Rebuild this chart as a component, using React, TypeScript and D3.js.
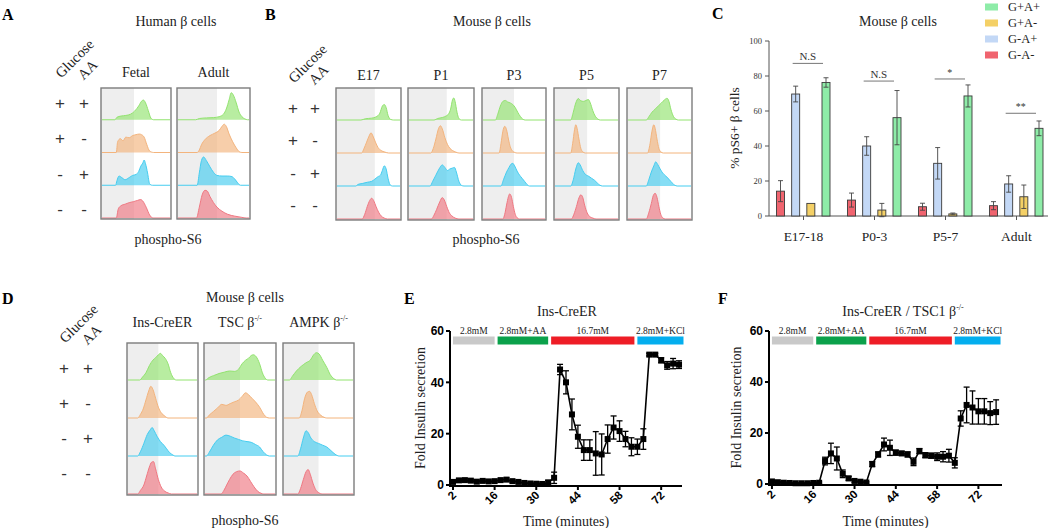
import React from 'react'
import * as d3 from 'd3'

const SERIF = '"Liberation Serif", "Times New Roman", serif'
const SANS = '"Liberation Sans", Arial, sans-serif'

type Pt = [number, number]

// ---- flow histograms: [phospho-S6 position %, height % of row], rows top -> bottom
const rowColors = ['#92e36f', '#f3b47d', '#45cdf0', '#ef7882']
const glucoseSigns = ['+', '+', '-', '-']
const aaSigns = ['+', '-', '+', '-']

const fetal: Pt[][] = [
  [[0,0],[19,0],[22,8],[28,12],[35,14],[42,18],[48,28],[54,45],[58,60],[61,64],[64,55],[68,30],[72,5],[76,0],[100,0]],
  [[0,0],[21,0],[23,35],[27,45],[31,38],[35,50],[40,48],[45,55],[50,58],[55,60],[58,58],[62,50],[66,25],[70,5],[76,0],[100,0]],
  [[0,0],[20,0],[22,15],[25,30],[29,25],[34,18],[40,25],[45,32],[50,35],[54,45],[57,62],[60,72],[62,82],[64,70],[67,40],[70,5],[74,0],[100,0]],
  [[0,0],[21,0],[24,30],[28,40],[34,45],[40,50],[46,53],[52,57],[57,60],[60,55],[65,35],[70,10],[75,0],[100,0]],
]
const adult: Pt[][] = [
  [[0,0],[25,0],[30,4],[40,6],[50,7],[58,10],[64,18],[68,35],[72,65],[75,88],[78,80],[82,55],[86,25],[90,10],[94,3],[98,0],[100,0]],
  [[0,0],[27,0],[30,8],[33,25],[38,42],[45,55],[52,63],[58,72],[62,85],[65,92],[68,85],[72,60],[77,35],[82,15],[86,3],[90,0],[100,0]],
  [[0,0],[27,0],[30,40],[33,80],[36,92],[40,80],[45,60],[50,42],[55,32],[62,30],[70,30],[76,28],[80,20],[84,8],[88,0],[100,0]],
  [[0,0],[26,0],[30,35],[34,75],[38,90],[41,88],[45,70],[50,50],[55,35],[62,22],[70,12],[80,6],[90,2],[96,0],[100,0]],
]
const e17: Pt[][] = [
  [[0,0],[38,0],[45,4],[55,6],[62,10],[68,22],[72,45],[75,50],[78,40],[81,15],[85,2],[90,0],[100,0]],
  [[0,0],[39,0],[43,15],[47,35],[51,55],[54,65],[57,55],[61,35],[65,18],[70,8],[76,3],[82,0],[100,0]],
  [[0,0],[30,0],[33,5],[40,8],[48,12],[55,15],[60,22],[65,30],[69,35],[72,50],[75,65],[78,55],[81,25],[84,5],[88,0],[100,0]],
  [[0,0],[40,0],[44,15],[48,40],[52,60],[55,67],[58,60],[62,40],[66,22],[70,10],[75,3],[80,0],[100,0]],
]
const p1: Pt[][] = [
  [[0,0],[39,0],[45,5],[52,8],[58,13],[62,20],[65,35],[68,65],[70,71],[72,60],[75,25],[78,5],[82,0],[100,0]],
  [[0,0],[34,0],[38,15],[42,45],[46,78],[49,88],[52,78],[56,50],[60,28],[64,15],[68,8],[73,3],[78,0],[100,0]],
  [[0,0],[33,0],[37,15],[42,35],[47,55],[52,68],[56,60],[60,50],[64,55],[68,58],[71,60],[74,45],[78,15],[82,2],[86,0],[100,0]],
  [[0,0],[35,0],[39,12],[43,30],[48,55],[52,69],[55,62],[59,40],[63,20],[67,10],[72,3],[78,0],[100,0]],
]
const p3: Pt[][] = [
  [[0,0],[20,0],[24,20],[28,45],[32,60],[36,63],[40,58],[44,55],[48,50],[52,40],[56,25],[60,12],[64,3],[68,0],[100,0]],
  [[0,0],[26,0],[29,30],[32,70],[35,86],[38,75],[41,45],[44,20],[47,8],[51,2],[55,0],[100,0]],
  [[0,0],[29,0],[33,20],[38,45],[42,60],[45,70],[48,73],[51,65],[55,48],[59,35],[63,25],[67,15],[71,5],[75,0],[100,0]],
  [[0,0],[32,0],[35,15],[38,45],[41,72],[43,81],[46,70],[49,40],[52,15],[55,4],[59,0],[100,0]],
]
const p5: Pt[][] = [
  [[0,0],[25,0],[29,25],[33,55],[37,69],[41,62],[45,60],[49,63],[53,66],[56,55],[60,30],[64,12],[68,3],[72,0],[100,0]],
  [[0,0],[25,0],[28,30],[31,75],[33,91],[35,80],[38,45],[41,15],[44,4],[48,0],[100,0]],
  [[0,0],[25,0],[29,20],[33,55],[37,75],[40,68],[44,50],[48,38],[53,32],[58,25],[63,18],[67,10],[71,3],[75,0],[100,0]],
  [[0,0],[26,0],[30,15],[34,40],[38,68],[41,78],[44,70],[47,45],[51,20],[55,8],[60,3],[65,0],[100,0]],
]
const p7: Pt[][] = [
  [[0,0],[29,0],[33,10],[38,25],[43,35],[48,45],[53,55],[58,65],[62,70],[65,60],[68,35],[72,12],[76,3],[80,0],[100,0]],
  [[0,0],[31,0],[35,30],[38,70],[41,91],[43,80],[46,45],[49,15],[52,4],[56,0],[100,0]],
  [[0,0],[29,0],[33,20],[37,45],[41,65],[44,78],[47,70],[51,55],[55,42],[60,32],[65,22],[70,10],[74,3],[78,0],[100,0]],
  [[0,0],[29,0],[33,20],[37,50],[40,75],[43,83],[46,70],[49,40],[52,15],[55,4],[59,0],[100,0]],
]
const insCre: Pt[][] = [
  [[0,0],[17,0],[21,8],[26,20],[31,40],[36,55],[40,62],[44,70],[47,74],[50,68],[54,60],[58,45],[62,20],[66,5],[70,0],[100,0]],
  [[0,0],[14,0],[18,10],[22,25],[26,50],[30,75],[33,88],[36,80],[40,55],[44,30],[48,15],[53,6],[58,0],[100,0]],
  [[0,0],[14,0],[18,12],[23,35],[28,60],[32,72],[35,79],[38,70],[42,55],[47,40],[52,30],[56,20],[60,10],[65,3],[68,0],[100,0]],
  [[0,0],[14,0],[18,10],[23,25],[27,50],[31,75],[34,88],[37,90],[40,70],[44,40],[48,20],[53,8],[58,3],[63,0],[100,0]],
]
const tscKO: Pt[][] = [
  [[0,0],[1,0],[5,6],[12,12],[20,18],[28,22],[35,25],[42,24],[48,30],[53,45],[58,55],[62,60],[66,68],[69,70],[73,65],[78,45],[82,20],[86,5],[90,0],[100,0]],
  [[0,0],[2,0],[6,8],[12,18],[18,28],[24,38],[30,35],[36,40],[42,45],[48,50],[53,60],[58,70],[62,65],[67,55],[72,45],[78,30],[84,10],[88,2],[92,0],[100,0]],
  [[0,0],[2,0],[6,10],[12,30],[18,45],[24,52],[30,58],[36,55],[42,50],[48,46],[54,42],[60,40],[66,38],[72,32],[78,25],[83,12],[88,3],[92,0],[100,0]],
  [[0,0],[23,0],[27,10],[31,25],[35,40],[40,55],[45,62],[50,64],[55,58],[60,50],[65,35],[70,20],[75,8],[80,2],[84,0],[100,0]],
]
const ampkKO: Pt[][] = [
  [[0,0],[8,0],[12,10],[18,25],[25,38],[32,48],[38,55],[43,70],[47,76],[51,72],[56,55],[62,35],[67,15],[72,4],[76,0],[100,0]],
  [[0,0],[22,0],[26,20],[30,55],[34,72],[37,74],[40,65],[44,40],[48,20],[53,8],[58,2],[62,0],[100,0]],
  [[0,0],[20,0],[24,20],[28,50],[32,70],[35,65],[39,50],[44,40],[50,35],[56,30],[62,25],[68,15],[74,5],[80,0],[100,0]],
  [[0,0],[20,0],[24,15],[28,40],[32,62],[35,68],[38,55],[42,30],[46,12],[50,4],[55,0],[100,0]],
]

// ---- panel C
const stages = ['E17-18', 'P0-3', 'P5-7', 'Adult']
const conditions = ['G-A-', 'G-A+', 'G+A-', 'G+A+']
const condColors = ['#f0646f', '#c3d8f6', '#f4d066', '#8eeca8']
const pctGmAm = [14.2, 9.1, 5.3, 5.9]
const errGmAm = [6, 4, 2, 2.3]
const pctGmAp = [69.7, 40, 30.1, 18.3]
const errGmAp = [4.5, 5.3, 9, 4.7]
const pctGpAm = [7.2, 3.4, 1.2, 11]
const errGpAm = [0, 3.8, 0.5, 6.7]
const pctGpAp = [76.3, 56.2, 68.6, 50.1]
const errGpAp = [2.7, 15.5, 6.3, 4.2]
const sigLabels = ['N.S', 'N.S', '*', '**']
const sigLevel = [87.2, 77.1, 78.3, 58.7]
const pctTicks = [0, 20, 40, 60, 80, 100]

// ---- panels E / F
const minutes = [2,4,6,8,10,12,14,16,18,20,22,24,26,28,30,32,34,36,38,40,42,44,46,48,50,52,54,56,58,60,62,64,66,68,70,72,74,76,78]
const ctrlFold = [1.2,1.8,1.9,1.7,1.3,1.6,1.4,1.5,1.9,2.1,1.5,1.2,0.8,0.6,0.5,0.4,1.0,2.8,45,40,27.5,18.8,13.6,13.6,12.3,11.9,17.9,22.4,21,17.9,14.9,14.9,17.9,50.8,50.8,48.6,46.6,47.3,46.9]
const ctrlErr = [0.5,0.6,0.6,0.5,0.5,0.5,0.5,0.5,0.6,0.7,0.5,0.5,0.4,0.3,0.3,0.3,0.8,2.2,2,4.5,6,4.5,4,4,8.5,8,5.5,4.5,4,3,3.5,3,4,0.5,0.5,1,1.5,2,1.5]
const tscFold = [1.0,0.7,0.5,0.4,0.3,0.3,0.3,0.4,0.5,9,12,10,4,2.2,1.2,0.9,0.6,7.8,11.6,15.5,14.2,12.3,12,11.6,8.7,12.9,11.3,11.1,10.7,10.7,11.1,8.3,25.7,31,30,28.5,28.5,27.8,28.2]
const tscErr = [0.4,0.3,0.3,0.3,0.2,0.2,0.2,0.3,0.3,1.5,4,4.5,1.5,0.8,0.5,0.4,0.3,1,1,2.5,3,1,0.8,1,1.5,1,1,1,1.5,2,2.5,2,3,7,6.5,5,5,4.5,4.8]
const timeTicks = [2, 16, 30, 44, 58, 72]
const foldTicks = [0, 20, 40, 60]
const stimLabels = ['2.8mM', '2.8mM+AA', '16.7mM', '2.8mM+KCl']
const stimStart = [2, 17, 35, 64]
const stimEnd = [16, 34, 63, 79.5]
const stimColors = ['#c9c9c9', '#0ba14b', '#ee1d26', '#04aeee']

type BoxSpec = { label: React.ReactNode; x: number; w: number; gate: number; rows: Pt[][] }

function FlowBox({ b, top, bottom, labelY }: { b: BoxSpec; top: number; bottom: number; labelY: number }) {
  const xs = d3.scaleLinear().domain([0, 100]).range([b.x + 1, b.x + b.w - 1])
  const rh = (bottom - top) / b.rows.length
  return (
    <g>
      <rect x={b.x} y={top} width={b.w} height={bottom - top} fill="#fff" />
      <rect x={b.x} y={top} width={xs(b.gate) - b.x} height={bottom - top} fill="#eeeeee" />
      {b.rows.map((pts, i) => {
        const ys = d3.scaleLinear().domain([0, 100]).range([top + (i + 1) * rh - 1, top + i * rh + 1])
        const area = d3.area<Pt>().x(d => xs(d[0])).y0(ys(0)).y1(d => ys(d[1])).curve(d3.curveMonotoneX)
        const line = d3.line<Pt>().x(d => xs(d[0])).y(d => ys(d[1])).curve(d3.curveMonotoneX)
        return (
          <g key={i}>
            <path d={area(pts) || ''} fill={rowColors[i]} fillOpacity={0.65} />
            <path d={line(pts) || ''} fill="none" stroke={rowColors[i]} strokeWidth={1} />
          </g>
        )
      })}
      <rect x={b.x} y={top} width={b.w} height={bottom - top} fill="none" stroke="#7c7c7c" strokeWidth={1.4} />
      <text x={b.x + b.w / 2} y={labelY} textAnchor="middle" fontSize={14} fill="#222">{b.label}</text>
    </g>
  )
}

function Signs({ x1, x2, y0, step }: { x1: number; x2: number; y0: number; step: number }) {
  return (
    <g fontFamily={SANS} fontSize={17} fill="#333" textAnchor="middle">
      <text transform={`translate(${x1 + 18},${y0 - 41}) rotate(-45)`} fontFamily={SERIF} fontSize={14.5} fill="#222">Glucose</text>
      <text transform={`translate(${x2 + 7},${y0 - 30}) rotate(-45)`} fontFamily={SERIF} fontSize={14.5} fill="#222">AA</text>
      {glucoseSigns.map((s, i) => (
        <g key={i}>
          <text x={x1} y={y0 + i * step} dy="0.35em">{s}</text>
          <text x={x2} y={y0 + i * step} dy="0.35em">{aaSigns[i]}</text>
        </g>
      ))}
    </g>
  )
}

const sup = (main: string, s: string) => (
  <>
    {main}
    <tspan fontSize={8} dy={-6}>{s}</tspan>
  </>
)

function PanelC() {
  const x = d3.scaleBand().domain(stages).range([768, 1052])
  const sub = d3.scalePoint().domain(conditions).range([-23, 22.5])
  const y = d3.scaleLinear().domain([0, 100]).range([216, 41])
  const series = [
    { v: pctGmAm, e: errGmAm },
    { v: pctGmAp, e: errGmAp },
    { v: pctGpAm, e: errGpAm },
    { v: pctGpAp, e: errGpAp },
  ]
  const bw = 8
  const cx = (s: string) => (x(s) || 0) + x.bandwidth() / 2
  const legendOrder = [3, 2, 1, 0]
  return (
    <g>
      <text x={712} y={19} fontWeight="bold" fontSize={16}>C</text>
      <text x={898} y={26} textAnchor="middle" fontSize={14} fill="#222">Mouse β cells</text>
      <line x1={769} x2={769} y1={y(0)} y2={y(100)} stroke="#555" strokeWidth={1} />
      <line x1={769} x2={1048} y1={y(0)} y2={y(0)} stroke="#555" strokeWidth={1} />
      {pctTicks.map(t => (
        <g key={t}>
          <line x1={765} x2={769} y1={y(t)} y2={y(t)} stroke="#555" />
          <text x={762} y={y(t)} dy="0.33em" textAnchor="end" fontSize={8.5} fill="#333">{t}</text>
        </g>
      ))}
      <text transform={`translate(739,128) rotate(-90)`} textAnchor="middle" fontSize={13.5} fill="#222">% pS6+ β cells</text>
      {stages.map((s, si) => (
        <g key={s}>
          <line x1={cx(s)} x2={cx(s)} y1={y(0)} y2={y(0) + 4} stroke="#555" />
          <text x={cx(s)} y={241} textAnchor="middle" fontSize={13.5} fill="#222">{s}</text>
          {series.map((ser, ci) => {
            const bx = cx(s) + (sub(conditions[ci]) || 0)
            const v = ser.v[si], e = ser.e[si]
            return (
              <g key={ci}>
                <rect x={bx - bw / 2} y={y(v)} width={bw} height={y(0) - y(v)} fill={condColors[ci]} stroke="#3a3a3a" strokeWidth={0.9} />
                {e > 0 && (
                  <g stroke="#444" strokeWidth={0.9}>
                    <line x1={bx} x2={bx} y1={y(v - e)} y2={y(v + e)} />
                    <line x1={bx - 2.5} x2={bx + 2.5} y1={y(v + e)} y2={y(v + e)} />
                    <line x1={bx - 2.5} x2={bx + 2.5} y1={y(v - e)} y2={y(v - e)} />
                  </g>
                )}
              </g>
            )
          })}
          <line x1={cx(s) + (sub('G-A+') || 0) - 3} x2={cx(s) + (sub('G+A+') || 0) - 3} y1={y(sigLevel[si])} y2={y(sigLevel[si])} stroke="#666" strokeWidth={0.9} />
          <text x={cx(s) + ((sub('G-A+') || 0) + (sub('G+A+') || 0)) / 2 - 3} y={y(sigLevel[si]) - 3} textAnchor="middle" fontSize={sigLabels[si] === 'N.S' ? 11 : 10} fill="#333">{sigLabels[si]}</text>
        </g>
      ))}
      {legendOrder.map((ci, i) => (
        <g key={ci}>
          <rect x={985} y={7 + i * 16 - 3.5} width={13} height={7} fill={condColors[ci]} />
          <text x={1008} y={7 + i * 16} dy="0.35em" fontSize={12.5} fill="#222">{conditions[ci]}</text>
        </g>
      ))}
    </g>
  )
}

function Perifusion({ x0, x1, tMax, y0, y1, mean, err, title, titleX, letter, letterX, ylabX }: any) {
  const x = d3.scaleLinear().domain([1, tMax]).range([x0, x1])
  const y = d3.scaleLinear().domain([0, 60]).range([y0, y1])
  const line = d3.line<number>().x((_, i) => x(minutes[i])).y(d => y(d))
  const ms = 6
  return (
    <g>
      <text x={letterX} y={304} fontWeight="bold" fontSize={16}>{letter}</text>
      <text x={titleX} y={316} textAnchor="middle" fontSize={14} fill="#222">{title}</text>
      {stimLabels.map((s, i) => (
        <g key={s}>
          <rect x={x(stimStart[i])} y={y1 + 5.5} width={x(stimEnd[i]) - x(stimStart[i])} height={8} fill={stimColors[i]} />
          <text x={(x(stimStart[i]) + x(stimEnd[i])) / 2} y={y1 + 3} textAnchor="middle" fontSize={9.5} fill="#222">{s}</text>
        </g>
      ))}
      <path d={line(mean) || ''} fill="none" stroke="#000" strokeWidth={1.6} />
      {mean.map((m: number, i: number) => {
        const px = x(minutes[i])
        const e = err[i]
        return (
          <g key={i} stroke="#000" strokeWidth={1.3}>
            <line x1={px} x2={px} y1={y(Math.max(0, m - e))} y2={y(m + e)} />
            <line x1={px - 3} x2={px + 3} y1={y(m + e)} y2={y(m + e)} />
            <line x1={px - 3} x2={px + 3} y1={y(Math.max(0, m - e))} y2={y(Math.max(0, m - e))} />
            <rect x={px - ms / 2} y={y(m) - ms / 2} width={ms} height={ms} fill="#000" stroke="none" />
          </g>
        )
      })}
      <line x1={x0} x2={x0} y1={y0 + 1} y2={y1} stroke="#000" strokeWidth={2} />
      <line x1={x0 - 1} x2={x1} y1={y0 + 1} y2={y0 + 1} stroke="#000" strokeWidth={2} />
      {foldTicks.map(t => (
        <g key={t}>
          <line x1={x0 - 4} x2={x0} y1={y(t)} y2={y(t)} stroke="#000" strokeWidth={2} />
          <text x={x0 - 6} y={y(t)} dy="0.35em" textAnchor="end" fontFamily={SANS} fontWeight="bold" fontSize={12}>{t}</text>
        </g>
      ))}
      {timeTicks.map(t => (
        <g key={t}>
          <line x1={x(t)} x2={x(t)} y1={y0 + 1} y2={y0 + 5} stroke="#000" strokeWidth={2} />
          <text transform={`translate(${x(t) + 4},${y0 + 11}) rotate(-45)`} textAnchor="end" fontFamily={SANS} fontWeight="bold" fontSize={11.5}>{t}</text>
        </g>
      ))}
      <text transform={`translate(${ylabX},${(y0 + y1) / 2}) rotate(-90)`} textAnchor="middle" fontSize={14} fill="#222">Fold Insulin secretion</text>
      <text x={(x0 + x1) / 2} y={526} textAnchor="middle" fontSize={14} fill="#222">Time (minutes)</text>
    </g>
  )
}

export default function App() {
  const boxesA: BoxSpec[] = [
    { label: 'Fetal', x: 101, w: 70, gate: 47, rows: fetal },
    { label: 'Adult', x: 177, w: 73, gate: 55, rows: adult },
  ]
  const boxesB: BoxSpec[] = [
    { label: 'E17', x: 336, w: 65, gate: 60, rows: e17 },
    { label: 'P1', x: 408, w: 66, gate: 59, rows: p1 },
    { label: 'P3', x: 482, w: 64, gate: 50, rows: p3 },
    { label: 'P5', x: 554, w: 65, gate: 51, rows: p5 },
    { label: 'P7', x: 627, w: 65, gate: 51, rows: p7 },
  ]
  const boxesD: BoxSpec[] = [
    { label: 'Ins-CreER', x: 127, w: 71, gate: 44, rows: insCre },
    { label: sup('TSC β', '-/-'), x: 204, w: 72, gate: 50, rows: tscKO },
    { label: sup('AMPK β', '-/-'), x: 283, w: 71, gate: 50, rows: ampkKO },
  ]
  return (
    <svg width={1050} height={528} style={{ position: 'absolute', left: 0, top: 0, background: '#fff' }} fontFamily={SERIF}>
      {/* A */}
      <text x={2} y={20} fontWeight="bold" fontSize={16}>A</text>
      <text x={176} y={26} textAnchor="middle" fontSize={14} fill="#222">Human β cells</text>
      <Signs x1={60} x2={84} y0={103} step={35.3} />
      {boxesA.map((b, i) => <FlowBox key={i} b={b} top={88} bottom={219} labelY={77} />)}
      <text x={168} y={244} textAnchor="middle" fontSize={14} fill="#222">phospho-S6</text>

      {/* B */}
      <text x={265} y={20} fontWeight="bold" fontSize={16}>B</text>
      <text x={492} y={26} textAnchor="middle" fontSize={14} fill="#222">Mouse β cells</text>
      <Signs x1={293} x2={315} y0={108} step={32.3} />
      {boxesB.map((b, i) => <FlowBox key={i} b={b} top={88} bottom={220} labelY={80} />)}
      <text x={486} y={244} textAnchor="middle" fontSize={14} fill="#222">phospho-S6</text>

      <PanelC />

      {/* D */}
      <text x={2} y={304} fontWeight="bold" fontSize={16}>D</text>
      <text x={245} y={302} textAnchor="middle" fontSize={14} fill="#222">Mouse β cells</text>
      <Signs x1={64} x2={88} y0={368} step={35} />
      {boxesD.map((b, i) => <FlowBox key={i} b={b} top={343} bottom={495} labelY={327} />)}
      <text x={245} y={525} textAnchor="middle" fontSize={14} fill="#222">phospho-S6</text>

      <Perifusion x0={450} x1={682} tMax={79} y0={485} y1={331} mean={ctrlFold} err={ctrlErr}
        title="Ins-CreER" titleX={567} letter="E" letterX={404} ylabX={425} />
      <Perifusion x0={769} x1={1002} tMax={80} y0={484} y1={331} mean={tscFold} err={tscErr}
        title={sup('Ins-CreER / TSC1 β', '-/-')} titleX={903} letter="F" letterX={718} ylabX={741} />
    </svg>
  )
}
